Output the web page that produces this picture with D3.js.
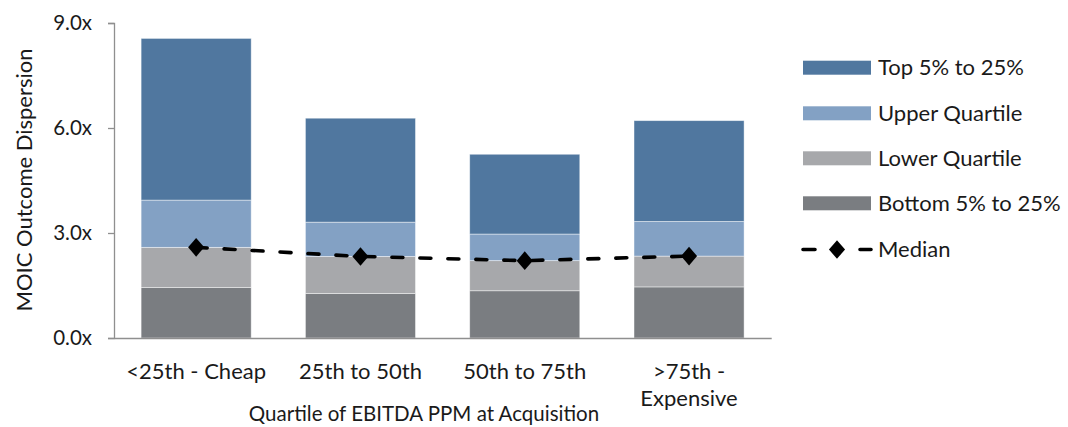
<!DOCTYPE html>
<html>
<head>
<meta charset="utf-8">
<script src="https://cdn.jsdelivr.net/npm/d3@7"></script>
<style>
  html, body { margin: 0; padding: 0; background: #ffffff; }
  svg { display: block; }
  text { font-family: "Source Sans Pro", "Lato", sans-serif; fill: #1a1a1a; }
</style>
</head>
<body>
<svg id="chart" width="1068" height="427"></svg>
<script>
// Quartile buckets of EBITDA purchase-price multiple
const categories = ["<25th - Cheap", "25th to 50th", "50th to 75th", ">75th - Expensive"];
const categoryLines = [["<25th - Cheap"], ["25th to 50th"], ["50th to 75th"], [">75th -", "Expensive"]];

// Segment heights (MOIC, x) stacked from the bottom up
const bottom5to25 = [1.44, 1.27, 1.35, 1.46];
const lowerQuartile = [1.15, 1.06, 0.86, 0.88];
const upperQuartile = [1.35, 0.98, 0.76, 0.99];
const top5to25 = [4.62, 2.97, 2.28, 2.88];

// Median MOIC per bucket
const median = [2.59, 2.33, 2.21, 2.34];

const yTicks = [0, 3, 6, 9];

const seriesKeys = ["bottom", "lower", "upper", "top"];
const seriesNames = {
  top: "Top 5% to 25%",
  upper: "Upper Quartile",
  lower: "Lower Quartile",
  bottom: "Bottom 5% to 25%"
};
const colors = {
  top: "#50779f",
  upper: "#83a1c4",
  lower: "#a7a8ab",
  bottom: "#7a7d81"
};

const rows = categories.map((c, i) => ({
  cat: c,
  bottom: bottom5to25[i],
  lower: lowerQuartile[i],
  upper: upperQuartile[i],
  top: top5to25[i],
  median: median[i]
}));

const svg = d3.select("#chart");
const labelSize = 22;

const x = d3.scaleBand()
  .domain(categories)
  .range([114, 771.2])
  .paddingInner(0.33)
  .paddingOuter(0.165);

const y = d3.scaleLinear().domain([0, 9]).range([338, 23]);

const stacked = d3.stack().keys(seriesKeys)(rows);

// Bars
svg.append("g")
  .selectAll("g")
  .data(stacked)
  .join("g")
  .attr("fill", d => colors[d.key])
  .selectAll("rect")
  .data(d => d)
  .join("rect")
  .attr("x", d => x(d.data.cat))
  .attr("width", x.bandwidth())
  .attr("y", d => y(d[1]))
  .attr("height", d => y(d[0]) - y(d[1]))
  .attr("stroke", "rgba(255,255,255,0.55)")
  .attr("stroke-width", 0.8);

// Y axis
const yAxis = d3.axisLeft(y)
  .tickValues(yTicks)
  .tickSize(6)
  .tickPadding(16)
  .tickFormat(d => d3.format(".1f")(d) + "x");

const gy = svg.append("g")
  .attr("transform", "translate(114,0)")
  .call(yAxis);
gy.select(".domain").attr("stroke", "#8f8f8f").attr("stroke-width", 1.3);
gy.selectAll(".tick line").attr("stroke", "#8f8f8f").attr("stroke-width", 1.3);
gy.selectAll(".tick text")
  .attr("font-size", 20.5)
  .attr("fill", "#1a1a1a")
  .style("font-family", "\"Source Sans Pro\", \"Lato\", sans-serif");

// X axis baseline
const gx = svg.append("g")
  .attr("transform", "translate(0,338)")
  .call(d3.axisBottom(x).tickSize(0).tickFormat(""));
gx.select(".domain").attr("stroke", "#8f8f8f").attr("stroke-width", 1.3);

// Category labels (wrapped)
const catLabels = svg.append("g")
  .selectAll("text")
  .data(categories)
  .join("text")
  .attr("text-anchor", "middle")
  .attr("font-size", labelSize)
  .attr("x", d => x(d) + x.bandwidth() / 2)
  .attr("y", 379);
catLabels.each(function(d, i) {
  const t = d3.select(this);
  categoryLines[i].forEach((line, j) => {
    t.append("tspan")
      .attr("x", x(d) + x.bandwidth() / 2)
      .attr("dy", j === 0 ? 0 : 27)
      .text(line);
  });
});

// Median line
const medianLine = d3.line()
  .x(d => x(d.cat) + x.bandwidth() / 2)
  .y(d => y(d.median));

svg.append("path")
  .datum(rows)
  .attr("d", medianLine)
  .attr("fill", "none")
  .attr("stroke", "#000000")
  .attr("stroke-width", 3.6)
  .attr("stroke-linecap", "round")
  .attr("stroke-dasharray", "11 17");

const diamond = d3.symbol().type(d3.symbolDiamond).size(100);
svg.append("g")
  .selectAll("path")
  .data(rows)
  .join("path")
  .attr("d", diamond)
  .attr("transform", d => `translate(${x(d.cat) + x.bandwidth() / 2},${y(d.median)}) scale(1.5,1)`)
  .attr("fill", "#000000");

// Axis titles
svg.append("text")
  .attr("text-anchor", "middle")
  .attr("font-size", labelSize)
  .attr("transform", "translate(32,180) rotate(-90)")
  .text("MOIC Outcome Dispersion");

svg.append("text")
  .attr("text-anchor", "middle")
  .attr("font-size", 20.5)
  .attr("x", 424)
  .attr("y", 421)
  .text("Quartile of EBITDA PPM at Acquisition");

// Legend
const legendKeys = ["top", "upper", "lower", "bottom"];
const legendY = [67.7, 113.3, 158.3, 203.3];
const legend = svg.append("g");
legendKeys.forEach((k, i) => {
  legend.append("rect")
    .attr("x", 803)
    .attr("y", legendY[i] - 7)
    .attr("width", 68)
    .attr("height", 14)
    .attr("fill", colors[k]);
  legend.append("text")
    .attr("x", 878)
    .attr("y", legendY[i] + 7.5)
    .attr("font-size", labelSize)
    .text(seriesNames[k]);
});
const medY = 249.5;
legend.append("line")
  .attr("x1", 803).attr("x2", 871)
  .attr("y1", medY).attr("y2", medY)
  .attr("stroke", "#000000")
  .attr("stroke-width", 3.6)
  .attr("stroke-linecap", "round")
  .attr("stroke-dasharray", "12 45");
legend.append("path")
  .attr("d", diamond)
  .attr("transform", `translate(837,${medY}) scale(1.5,1)`)
  .attr("fill", "#000000");
legend.append("text")
  .attr("x", 878)
  .attr("y", medY + 7.5)
  .attr("font-size", labelSize)
  .text("Median");
</script>
</body>
</html>
